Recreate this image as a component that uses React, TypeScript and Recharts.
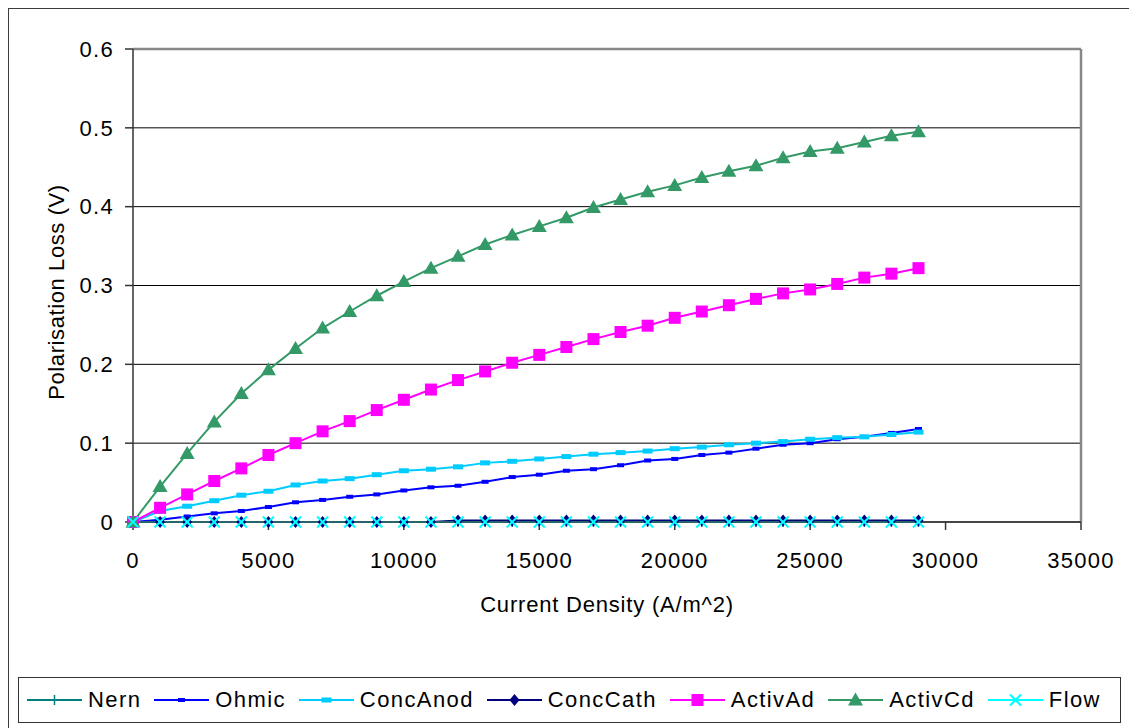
import React from 'react'
import {
  LineChart, Line, XAxis, YAxis, CartesianGrid, ReferenceLine
} from 'recharts'

const currentDensity = [
  0, 1000, 2000, 3000, 4000, 5000, 6000, 7000, 8000, 9000,
  10000, 11000, 12000, 13000, 14000, 15000, 16000, 17000, 18000, 19000,
  20000, 21000, 22000, 23000, 24000, 25000, 26000, 27000, 28000, 29000,
]
const nern = [
  0, 0, 0, 0, 0, 0, 0, 0, 0, 0,
  0, 0, 0, 0, 0, 0, 0, 0, 0, 0,
  0, 0, 0, 0, 0, 0, 0, 0, 0, 0,
]
const ohmic = [
  0, 0.003, 0.007, 0.011, 0.014, 0.019, 0.025, 0.028, 0.032, 0.035,
  0.04, 0.044, 0.046, 0.051, 0.057, 0.06, 0.065, 0.067, 0.072, 0.078,
  0.08, 0.085, 0.088, 0.093, 0.098, 0.1, 0.105, 0.108, 0.113, 0.118,
]
const concAnod = [
  0, 0.014, 0.02, 0.027, 0.034, 0.039, 0.047, 0.052, 0.055, 0.06,
  0.065, 0.067, 0.07, 0.075, 0.077, 0.08, 0.083, 0.086, 0.088, 0.09,
  0.093, 0.095, 0.098, 0.1, 0.102, 0.105, 0.107, 0.108, 0.111, 0.114,
]
const concCath = [
  0, 0, 0, 0, 0, 0, 0, 0, 0, 0,
  0, 0, 0.002, 0.002, 0.002, 0.002, 0.002, 0.002, 0.002, 0.002,
  0.002, 0.002, 0.002, 0.002, 0.002, 0.002, 0.002, 0.002, 0.002, 0.002,
]
const activAd = [
  0, 0.018, 0.035, 0.052, 0.068, 0.085, 0.1, 0.115, 0.128, 0.142,
  0.155, 0.168, 0.18, 0.191, 0.202, 0.212, 0.222, 0.232, 0.241, 0.249,
  0.259, 0.267, 0.275, 0.283, 0.29, 0.295, 0.302, 0.31, 0.315, 0.322,
]
const activCd = [
  0, 0.045, 0.087, 0.127, 0.163, 0.193, 0.22, 0.246, 0.267, 0.287,
  0.305, 0.322, 0.337, 0.352, 0.364, 0.375, 0.386, 0.399, 0.409, 0.419,
  0.427, 0.437, 0.445, 0.452, 0.462, 0.47, 0.474, 0.482, 0.49, 0.495,
]
const flow = [
  0, 0, 0, 0, 0, 0, 0, 0, 0, 0,
  0, 0, 0, 0, 0, 0, 0, 0, 0, 0,
  0, 0, 0, 0, 0, 0, 0, 0, 0, 0,
]

const xTicks = [0, 5000, 10000, 15000, 20000, 25000, 30000, 35000]
const yTicks = [0, 0.1, 0.2, 0.3, 0.4, 0.5, 0.6]

const rows = currentDensity.map((x, i) => ({
  x,
  nern: nern[i],
  ohmic: ohmic[i],
  concAnod: concAnod[i],
  concCath: concCath[i],
  activAd: activAd[i],
  activCd: activCd[i],
  flow: flow[i],
}))

type Shape = 'plus' | 'dashS' | 'dashL' | 'diamond' | 'square' | 'triangle' | 'cross'

const series: { key: string; name: string; color: string; shape: Shape }[] = [
  { key: 'nern', name: 'Nern', color: '#008080', shape: 'plus' },
  { key: 'ohmic', name: 'Ohmic', color: '#0000ff', shape: 'dashS' },
  { key: 'concAnod', name: 'ConcAnod', color: '#00ccff', shape: 'dashL' },
  { key: 'concCath', name: 'ConcCath', color: '#000080', shape: 'diamond' },
  { key: 'activAd', name: 'ActivAd', color: '#ff00ff', shape: 'square' },
  { key: 'activCd', name: 'ActivCd', color: '#339966', shape: 'triangle' },
  { key: 'flow', name: 'Flow', color: '#00ffff', shape: 'cross' },
]

const FONT = '"Liberation Sans", Arial, sans-serif'

function marker(shape: Shape, cx: number, cy: number, color: string, key?: string) {
  switch (shape) {
    case 'plus':
      return (
        <g key={key}>
          <line x1={cx - 4} y1={cy} x2={cx + 4} y2={cy} stroke={color} strokeWidth={1.5} />
          <line x1={cx} y1={cy - 5} x2={cx} y2={cy + 5} stroke={color} strokeWidth={1.5} />
        </g>
      )
    case 'dashS':
      return <rect key={key} x={cx - 3.5} y={cy - 2} width={7} height={4} fill={color} />
    case 'dashL':
      return <rect key={key} x={cx - 5} y={cy - 2.5} width={10} height={5} fill={color} />
    case 'diamond':
      return <path key={key} d={`M${cx},${cy - 6}L${cx + 5},${cy}L${cx},${cy + 6}L${cx - 5},${cy}Z`} fill={color} />
    case 'square':
      return <rect key={key} x={cx - 6} y={cy - 6} width={12} height={12} fill={color} />
    case 'triangle':
      return <path key={key} d={`M${cx},${cy - 7.5}L${cx + 7.5},${cy + 5.5}L${cx - 7.5},${cy + 5.5}Z`} fill={color} />
    case 'cross':
      return (
        <g key={key}>
          <line x1={cx - 5.5} y1={cy - 5.5} x2={cx + 5.5} y2={cy + 5.5} stroke={color} strokeWidth={2} />
          <line x1={cx - 5.5} y1={cy + 5.5} x2={cx + 5.5} y2={cy - 5.5} stroke={color} strokeWidth={2} />
        </g>
      )
  }
}

function makeDot(shape: Shape, color: string, name: string) {
  return (props: any) => {
    const { cx, cy, index } = props
    if (cx == null || cy == null) return <g key={`${name}-${index}`} />
    return marker(shape, cx, cy, color, `${name}-${index}`)
  }
}

function XTitle(props: any) {
  const vb = props.viewBox
  return (
    <text x={vb.x + vb.width / 2} y={vb.y + 89.5} textAnchor="middle"
      style={{ fontFamily: FONT, fontSize: 22, letterSpacing: 0.8 }} fill="#000">
      Current Density (A/m^2)
    </text>
  )
}

function YTitle() {
  return (
    <text x={55} y={283} transform="rotate(-90 55 283)" textAnchor="middle"
      style={{ fontFamily: FONT, fontSize: 22, letterSpacing: 0.6 }} fill="#000">
      Polarisation Loss (V)
    </text>
  )
}

function Legend() {
  return (
    <div style={{
      position: 'absolute', left: 9, top: 668, width: 1103, height: 46, boxSizing: 'border-box',
      border: '1.5px solid #333', display: 'flex', alignItems: 'center', paddingLeft: 8,
      fontFamily: FONT, fontSize: 22, letterSpacing: 1.4, color: '#000', background: '#fff',
    }}>
      {series.map(s => (
        <div key={s.key} style={{ display: 'flex', alignItems: 'center', marginRight: 13 }}>
          <svg width={55} height={20} style={{ marginRight: 6 }}>
            <line x1={0} y1={10} x2={55} y2={10} stroke={s.color} strokeWidth={2} />
            {marker(s.shape, 27.5, 10, s.color)}
          </svg>
          <span>{s.name}</span>
        </div>
      ))}
    </div>
  )
}

export default function App() {
  const tick = { fontFamily: FONT, fontSize: 22, fill: '#000', letterSpacing: 1.3 }
  return (
    <div style={{
      position: 'relative', width: 1130, height: 726, boxSizing: 'border-box',
      border: '2px solid #3c3c3c', marginTop: -1, marginLeft: -1, background: '#fff',
    }}>
      <LineChart width={1126} height={718} data={rows}
        margin={{ top: 40, right: 54, bottom: 145, left: 54 }}>
        <CartesianGrid vertical={false} stroke="#000" strokeWidth={1} />
        <XAxis dataKey="x" type="number" domain={[0, 35000]} ticks={xTicks}
          height={60} tickSize={8} tickMargin={22} tick={tick}
          axisLine={{ stroke: '#333', strokeWidth: 1.5 }} tickLine={{ stroke: '#333', strokeWidth: 1.5 }}
          label={<XTitle />} />
        <YAxis type="number" domain={[0, 0.6]} ticks={yTicks} width={70}
          tickSize={8} tickMargin={11} tick={tick}
          axisLine={{ stroke: '#333', strokeWidth: 1.5 }} tickLine={{ stroke: '#333', strokeWidth: 1.5 }}
          label={<YTitle />} />
        <ReferenceLine y={0.6} stroke="#888" strokeWidth={2.5} />
        <ReferenceLine x={35000} stroke="#888" strokeWidth={2.5} />
        {series.map(s => (
          <Line key={s.key} type="linear" dataKey={s.key} name={s.name} stroke={s.color}
            strokeWidth={2} dot={makeDot(s.shape, s.color, s.key)} activeDot={false}
            isAnimationActive={false} />
        ))}
      </LineChart>
      <Legend />
    </div>
  )
}
